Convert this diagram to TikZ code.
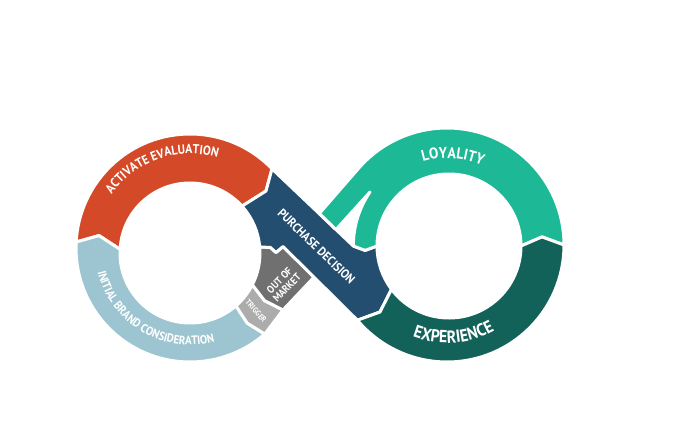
\documentclass[tikz,border=0pt]{standalone}
\usepackage{fontspec}
\newfontfamily\lab{PT Sans}[FakeStretch=0.9]
\usetikzlibrary{calc,decorations.text}
\definecolor{corange}{RGB}{212,74,40}
\definecolor{clblue}{RGB}{157,197,209}
\definecolor{cdblue}{RGB}{36,78,112}
\definecolor{cteal}{RGB}{29,185,150}
\definecolor{cdteal}{RGB}{19,98,90}
\definecolor{cgray}{RGB}{112,112,112}
\definecolor{clgray}{RGB}{172,172,172}
\begin{document}
\begin{tikzpicture}[x=1pt,y=-1pt,
  seg/.style={draw=white, line width=3pt, line join=round},
  lbl/.style={text=white, inner sep=0pt},
  arctext/.style={decorate, decoration={text along path, text color=white, text align=center}}]
\path[use as bounding box] (0,0) rectangle (680,425);
\coordinate (CLo) at (190,248);
\coordinate (CLi) at (190,253);
\coordinate (CLc) at (190,250);
\coordinate (CRo) at (447,245);
\coordinate (CRi) at (449,246);
% key points
\coordinate (K) at ($(CLo)+(316:114)$);
\coordinate (H) at (266,191);
\coordinate (T1) at (99,235.6);
\coordinate (D) at ($(CLo)+(49:114)$);
\coordinate (F) at ($(CLi)+(49:70)$);
\coordinate (A) at ($(CLi)+(27:70)$);
\coordinate (E) at (283,310);
\coordinate (M1) at (264.5,300.6);
\coordinate (M2) at (247.2,323.1);
\coordinate (N1) at ($(CLi)+(355:70)$);
\coordinate (S1) at ($(CRo)+(140:117)$);
\coordinate (S2) at (380,312);
\coordinate (S3) at ($(CRi)+(143:72)$);
\coordinate (Tip) at (542,236.9);
\coordinate (V) at ($(CRi)+(-145.6:95.7)$);
\coordinate (To) at (319.3,213.5);
\coordinate (Ti) at (336,229.6);
\coordinate (Bend) at ($(CRi)+(180:95.7)$);
\coordinate (Bin) at ($(CRi)+(180:72)$);
\coordinate (Btip) at (365.1,250.4);

% orange: activate evaluation
\path[seg, fill=corange] ($(CLo)+(183:114)$) -- (T1) -- ($(CLi)+(183:70)$)
  arc[start angle=183, end angle=318, radius=70] -- (H) -- (K)
  arc[start angle=316, end angle=183, radius=114] -- cycle;
% light blue: initial brand consideration
\path[seg, fill=clblue] (D) -- (M2) -- (F)
  arc[start angle=49, end angle=183, radius=70] -- (T1) -- ($(CLo)+(183:114)$)
  arc[start angle=183, end angle=49, radius=114] -- cycle;
% trigger
\path[seg, fill=clgray] (A) -- (M1) -- (E) -- (D) -- (M2) -- (F)
  arc[start angle=49, end angle=27, radius=70] -- cycle;
% out of market
\path[seg, fill=cgray] (N1) -- (270.5,247.5) -- (276,252.5) -- (283,246.5) -- (314,277.2)
  -- (E) -- (M1) -- (A) arc[start angle=27, end angle=-5, radius=70] -- cycle;
% purchase decision
\path[seg, fill=cdblue] (K) -- (H) -- ($(CLi)+(318:70)$)
  arc[start angle=318, end angle=355, radius=70] -- (270.5,247.5) -- (276,252.5)
  -- (283,246.5) -- (S1) -- (S2) -- (S3)
  arc[start angle=143, end angle=180, radius=72] -- (Btip) -- (Bend) -- cycle;
% loyality
\path[seg, fill=cteal] ($(CRo)+(0:117)$) arc[start angle=0, end angle=-139, radius=117]
  -- (To) -- (Ti) -- (V) arc[start angle=-145.6, end angle=-180, radius=95.7]
  -- (Btip) -- (Bin) arc[start angle=180, end angle=360, radius=72] -- (Tip) -- cycle;
% experience
\path[seg, fill=cdteal] (S1) -- (S2) -- (S3) arc[start angle=143, end angle=0, radius=72]
  -- (Tip) -- ($(CRo)+(0:117)$) arc[start angle=0, end angle=140, radius=117] -- cycle;

% curved labels
\path[arctext, decoration={text={|\lab\bfseries\fontsize{13}{13}\selectfont|ACTIVATE EVALUATION}}]
  ($(CLc)+(191:96.2)$) arc[start angle=191, end angle=311, radius=96.2];
\path[arctext, decoration={text={|\lab\bfseries\fontsize{12}{12}\selectfont|INITIAL BRAND CONSIDERATION}}]
  ($(CLc)+(180.7:94.9)$) arc[start angle=180.7, end angle=60.7, radius=94.9];
\path[arctext, decoration={text={|\lab\bfseries\fontsize{15.5}{15.5}\selectfont|LOYALITY}}]
  ($(CRo)+(223.85:86.6)$) arc[start angle=223.85, end angle=323.85, radius=86.6];
\path[arctext, decoration={text={|\lab\bfseries\fontsize{17.5}{17.5}\selectfont|EXPERIENCE}}]
  ($(CRo)+(135.75:98)$) arc[start angle=135.75, end angle=35.75, radius=98];

% straight labels
\node[lbl, rotate=-44, font=\lab\bfseries\fontsize{12.5}{13}\selectfont] (pd) at (316.5,246.5) {PURCHASE DECISION};
\node[lbl, rotate=46, align=center, font=\lab\bfseries\fontsize{10.5}{10.5}\selectfont] (om) at (283,284) {OUT OF\\MARKET};
\node[lbl, rotate=-49, font=\lab\bfseries\fontsize{8}{8}\selectfont] (tr) at (256,311) {TRIGGER};
\end{tikzpicture}
\end{document}
